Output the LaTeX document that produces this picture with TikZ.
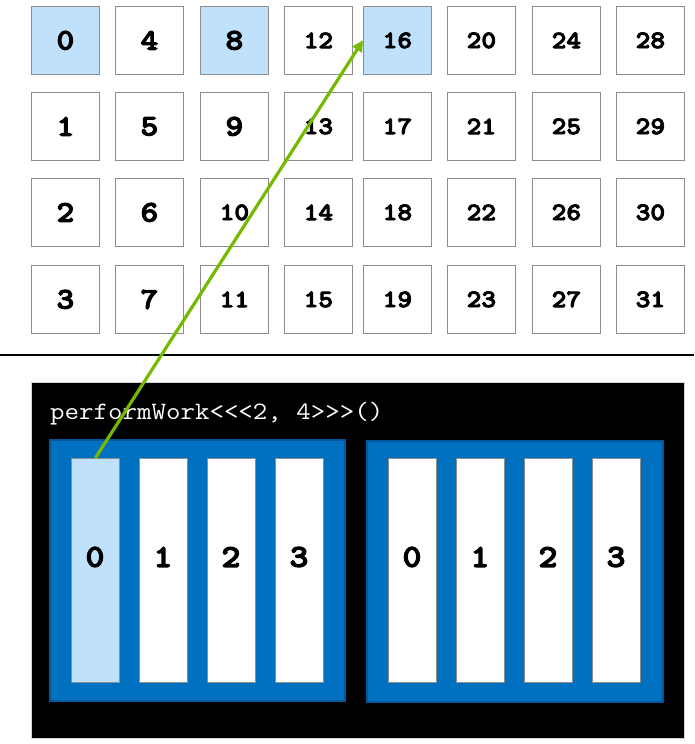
\documentclass[tikz,border=0pt]{standalone}
\usepackage{fontspec}
\newfontfamily\dfont[FakeBold=3.5]{lmmonolt10-bold.otf}
\usetikzlibrary{arrows.meta}
\definecolor{lblue}{HTML}{BFE1FC}
\definecolor{blkblue}{HTML}{0070C0}
\definecolor{blkedge}{HTML}{00589A}
\definecolor{nvgreen}{HTML}{76B900}
\definecolor{cellgray}{HTML}{8C8C8C}
\tikzset{
  cell/.style={draw=cellgray, line width=0.8pt, minimum width=68pt, minimum height=68pt, inner sep=0pt, anchor=north west},
  block/.style={fill=blkblue, draw=blkedge, line width=2pt, inner sep=0pt, anchor=north west, minimum height=261pt},
  thread/.style={draw=cellgray, line width=0.8pt, minimum width=48pt, minimum height=224pt, inner sep=0pt, anchor=north west},
  tlabel/.style={font=\dfont\fontsize{32}{32}\selectfont, inner sep=0pt},
  arrowline/.style={draw=nvgreen, line width=3.2pt, -{Triangle[length=11pt,width=11pt]}}
}
\newcommand{\widen}[1]{\scalebox{1.12}[1]{#1}}
\begin{document}
\begin{tikzpicture}[x=1pt,y=-1pt]
\useasboundingbox (0,0) rectangle (694,744);
% grid
\foreach \x [count=\c from 0] in {31,115,200,284,363,447,532,616}{
  \foreach \y [count=\r from 0] in {6,92,178,265}{
    \pgfmathtruncatemacro\n{\c*4+\r}
    \def\fillc{white}
    \ifnum\n=0 \def\fillc{lblue}\fi
    \ifnum\n=8 \def\fillc{lblue}\fi
    \ifnum\n=16 \def\fillc{lblue}\fi
    \ifnum\n<10
      \def\fsz{\fontsize{30}{30}\selectfont}
    \else
      \def\fsz{\fontsize{25}{25}\selectfont}
    \fi
    \node[cell, fill=\fillc, font=\dfont\fsz] (c\n) at (\x,\y) {\raisebox{-2.5pt}{\widen{\n}}};
  }
}
% separator
\coordinate (s0) at (0,355);
\coordinate (s1) at (694,355);
\draw[line width=2pt] (s0) -- (s1);
% gpu box
\node[fill=black, draw=gray!35, line width=1pt, anchor=north west, minimum width=653pt, minimum height=356pt, inner sep=0pt] (gpu) at (31,382) {};
\node[anchor=base west, text=white, inner sep=0pt, font=\ttfamily\fontsize{25}{25}\selectfont] (call) at (50,419) {\scalebox{1.125}[1]{performWork<\kern0pt<\kern0pt<2, 4>\kern0pt>\kern0pt>()}};
% blocks
\node[block, minimum width=295pt] (b1) at (49,439) {};
\node[block, minimum width=296pt] (b2) at (366,440) {};
% threads
\foreach \x [count=\i from 0] in {71,139,207,275}{
  \ifnum\i=0 \def\tf{lblue}\else\def\tf{white}\fi
  \node[thread, fill=\tf] (t1\i) at (\x,458) {};
  \node[tlabel] (l1\i) at (\x+24,557) {\widen{\i}};
}
\foreach \x [count=\i from 0] in {388,456,524,592}{
  \node[thread, fill=white] (t2\i) at (\x,458) {};
  \node[tlabel] (l2\i) at (\x+24,557) {\widen{\i}};
}
% arrow
\draw[arrowline] (t10.north) -- (c16.west);
\end{tikzpicture}
\end{document}
